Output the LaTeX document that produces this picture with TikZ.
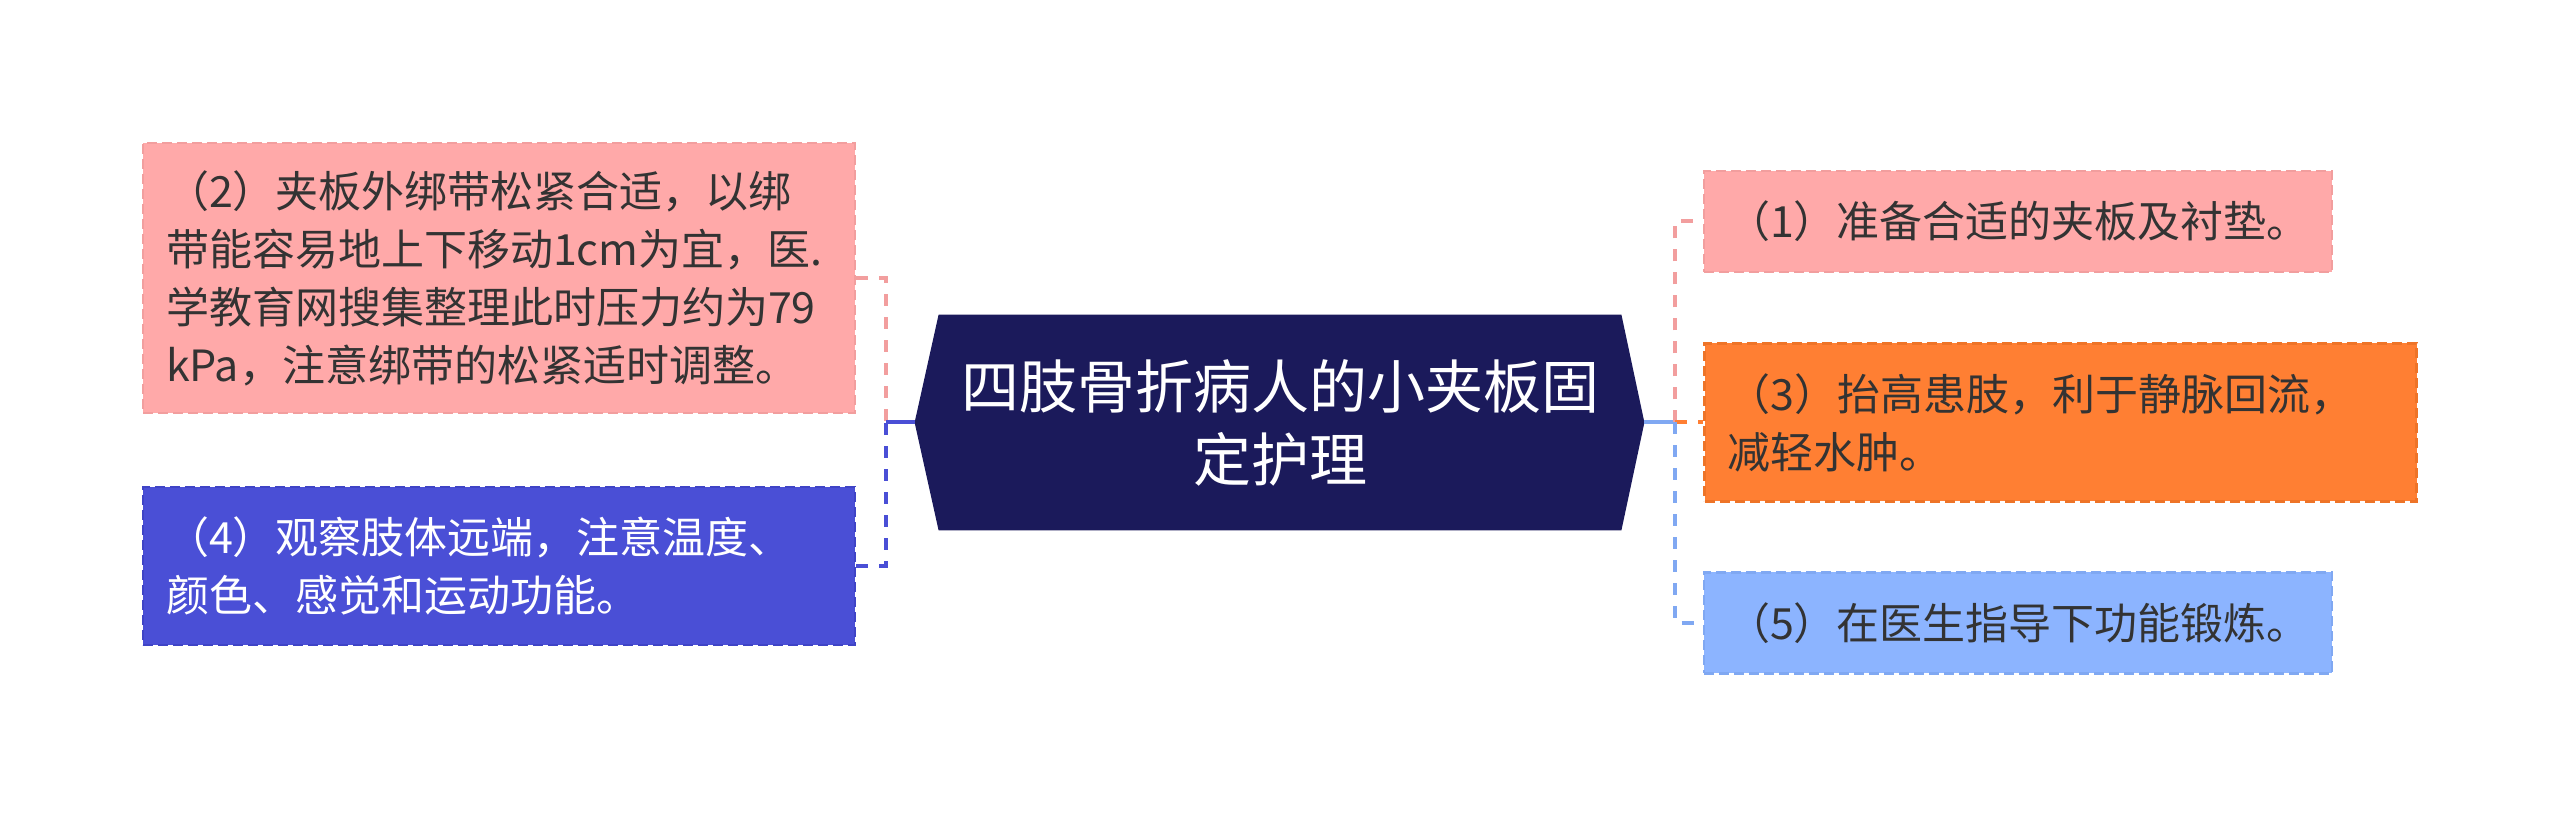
\documentclass[tikz,border=0pt]{standalone}
\usepackage{fontspec}
\setmainfont{Noto Sans CJK SC}
\usepackage{tikz}
\usetikzlibrary{calc, backgrounds}
\usepackage{color}

\definecolor{navy}{HTML}{1B1A5B}
\definecolor{pinkbg}{HTML}{FFA9A9}
\definecolor{pinkedge}{HTML}{F29E9E}
\definecolor{indigobg}{HTML}{4A4FD6}
\definecolor{indigoedge}{HTML}{3F44C6}
\definecolor{orangebg}{HTML}{FF7F33}
\definecolor{orangeedge}{HTML}{EE7428}
\definecolor{skybg}{HTML}{8CB4FF}
\definecolor{skyedge}{HTML}{80A8F2}
\definecolor{txt}{HTML}{333333}

\begin{document}
\begin{tikzpicture}[x=0.5pt,y=-0.5pt]
\tikzstyle{topic node}=[rectangle,align=center,text=white,minimum width=341pt,minimum height=107.5pt,inner sep=0pt,font=\fontsize{29pt}{36.5pt}\selectfont]
\tikzstyle{box node}=[rectangle,draw,fill,dash pattern=on 5pt off 2.5pt,line width=1.2pt,align=left,inner xsep=11.5pt,inner ysep=0pt,font=\fontsize{21.5pt}{29pt}\selectfont]
\tikzstyle{wide node}=[box node,text width=333pt]
\tikzstyle{short node}=[box node,text width=291pt]
\tikzset{
  pink node/.style = {draw=pinkedge,fill=pinkbg,text=txt},
  indigo node/.style = {draw=indigoedge,fill=indigobg,text=white},
  orange node/.style = {draw=orangeedge,fill=orangebg,text=txt},
  sky node/.style = {draw=skyedge,fill=skybg,text=txt},
  link/.style = {line width=2pt,dash pattern=on 6pt off 5.5pt},
  stem/.style = {line width=2pt}
}

\useasboundingbox (0,0) rectangle (2560,817);

    \node[topic node]                 (topic) at (1280,422.5) {四肢骨折病人的小夹板固\\定护理};
    \node[wide node,pink node,minimum height=135pt]   (care2) at (499,278)   {（2）夹板外绑带松紧合适，以绑\\带能容易地上下移动1cm为宜，医.\\学教育网搜集整理此时压力约为79\\kPa，注意绑带的松紧适时调整。};
    \node[wide node,indigo node,minimum height=79pt]  (care4) at (499,566)   {（4）观察肢体远端，注意温度、\\颜色、感觉和运动功能。};
    \node[short node,pink node,minimum height=50.5pt] (care1) at (2018,221.5) {（1）准备合适的夹板及衬垫。};
    \node[wide node,orange node,minimum height=79pt]  (care3) at (2060.5,422.5) {（3）抬高患肢，利于静脉回流，\\减轻水肿。};
    \node[short node,sky node,minimum height=50.5pt]  (care5) at (2018,623)   {（5）在医生指导下功能锻炼。};

    \begin{scope}[on background layer]
    \fill[navy] (topic.north west) -- (topic.north east) -- ($(topic.east)+(23,0)$) coordinate (rtip)
        -- (topic.south east) -- (topic.south west) -- ($(topic.west)+(-24,0)$) coordinate (ltip) -- cycle;
    \end{scope}
    %%%%%%%%%%%%%%%%%%%%%%%%%%%%%%%%%%
    \coordinate (lj) at (886,422.5);
    \coordinate (rj) at (1675,422.5);

    \draw[link,draw=pinkedge]   (care2.east) -| (lj);
    \draw[link,draw=indigobg]   (care4.east) -| (lj);
    \draw[stem,draw=indigobg]   (lj) -- (ltip);
    \draw[stem,draw=skyedge]    (rtip) -- (rj);
    \draw[link,draw=pinkedge]   (rj) |- (care1.west);
    \draw[link,draw=orangebg]   (rj) -- (care3.west);
    \draw[link,draw=skyedge]    (rj) |- (care5.west);
\end{tikzpicture}
\end{document}
